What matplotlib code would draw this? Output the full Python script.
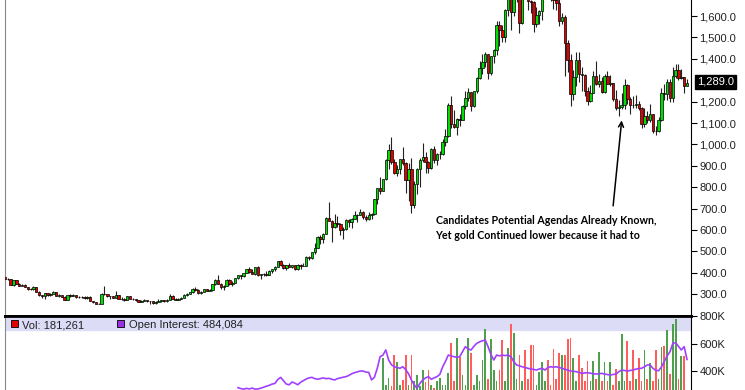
import matplotlib
matplotlib.use('Agg')
import matplotlib.pyplot as plt
from matplotlib.patches import Rectangle
from matplotlib.ticker import FuncFormatter

# monthly gold candles, Nov 1996 .. Nov 2016
opens = [
    379, 371,
    369, 345, 364, 349, 340, 345, 335, 326, 325, 332, 311, 296,  # 1997
    290, 304, 297, 301, 310, 293, 296, 288, 273, 294, 292, 294,  # 1998
    288, 287, 288, 280, 286, 268, 262, 255, 255, 299, 300, 292,  # 1999
    290, 283, 294, 277, 276, 272, 290, 276, 278, 273, 264, 270,  # 2000
    273, 266, 267, 258, 264, 267, 271, 266, 273, 293, 279, 275,  # 2001
    279, 282, 297, 302, 308, 326, 318, 304, 312, 324, 317, 318,  # 2002
    348, 368, 348, 335, 337, 364, 346, 354, 375, 388, 384, 398,  # 2003
    416, 403, 396, 426, 388, 395, 395, 391, 408, 416, 429, 453,  # 2004
    438, 422, 436, 428, 435, 418, 437, 430, 434, 473, 470, 496,  # 2005
    518, 569, 556, 583, 654, 643, 616, 634, 626, 599, 604, 648,  # 2006
    636, 653, 672, 669, 683, 660, 650, 668, 673, 743, 795, 783,  # 2007
    838, 928, 975, 917, 865, 887, 930, 914, 833, 884, 718, 816,  # 2008
    884, 928, 942, 916, 891, 979, 927, 954, 955, 1009, 1040, 1182,  # 2009
    1097, 1081, 1118, 1113, 1180, 1215, 1245, 1181, 1248, 1309, 1358, 1386,  # 2010
    1421, 1333, 1411, 1439, 1556, 1536, 1500, 1628, 1829, 1620, 1725, 1746,  # 2011
    1566, 1740, 1711, 1669, 1664, 1561, 1604, 1622, 1692, 1776, 1719, 1713,  # 2012
    1675, 1663, 1578, 1596, 1476, 1393, 1234, 1313, 1396, 1327, 1323, 1250,  # 2013
    1202, 1240, 1321, 1284, 1296, 1246, 1322, 1282, 1287, 1210, 1171, 1175,  # 2014
    1184, 1278, 1213, 1183, 1182, 1190, 1172, 1095, 1135, 1115, 1142, 1064,  # 2015
    1061, 1116, 1238, 1235, 1294, 1215, 1322, 1350, 1309, 1316, 1273,  # 2016
]
highs = [
    384, 374,
    369, 366, 368, 350, 349, 347, 335, 331, 337, 335, 314, 298,
    305, 304, 304, 315, 310, 300, 297, 290, 298, 300, 300, 295,
    293, 291, 290, 291, 290, 269, 264, 261, 304, 338, 303, 292,
    291, 316, 298, 288, 280, 292, 292, 281, 279, 275, 272, 277,
    273, 268, 268, 266, 277, 275, 272, 279, 300, 294, 284, 282,
    285, 303, 304, 311, 328, 332, 323, 315, 326, 325, 322, 349,
    372, 390, 353, 342, 371, 369, 363, 377, 391, 391, 400, 418,
    428, 420, 428, 430, 396, 399, 410, 412, 418, 431, 455, 458,
    440, 438, 446, 438, 436, 443, 439, 448, 477, 479, 498, 541,
    570, 575, 588, 660, 732, 645, 677, 666, 635, 616, 650, 650,
    656, 690, 675, 697, 690, 671, 682, 681, 745, 795, 848, 840,
    933, 1002, 1033, 930, 904, 933, 988, 917, 912, 935, 828, 889,
    938, 1007, 963, 922, 984, 991, 960, 967, 1026, 1072, 1194, 1227,
    1163, 1125, 1140, 1183, 1250, 1266, 1247, 1250, 1316, 1388, 1424, 1432,
    1424, 1414, 1448, 1575, 1578, 1557, 1633, 1911, 1923, 1764, 1803, 1763,
    1745, 1792, 1718, 1677, 1670, 1640, 1630, 1693, 1790, 1798, 1755, 1726,
    1695, 1684, 1616, 1606, 1488, 1424, 1348, 1434, 1434, 1362, 1327, 1267,
    1280, 1345, 1392, 1331, 1315, 1327, 1345, 1325, 1289, 1255, 1206, 1239,
    1307, 1283, 1220, 1224, 1232, 1205, 1175, 1170, 1157, 1191, 1142, 1088,
    1129, 1263, 1284, 1304, 1306, 1362, 1377, 1375, 1352, 1317, 1306,
]
lows = [
    368, 365,
    341, 340, 346, 337, 337, 334, 318, 320, 318, 308, 291, 281,
    278, 290, 292, 300, 290, 286, 286, 271, 272, 288, 290, 284,
    283, 281, 278, 279, 267, 257, 252, 252, 254, 295, 287, 278,
    280, 281, 276, 274, 270, 271, 276, 271, 269, 263, 263, 267,
    262, 255, 255, 254, 263, 264, 263, 265, 271, 276, 272, 271,
    277, 281, 290, 299, 307, 315, 302, 302, 311, 314, 315, 316,
    345, 347, 322, 320, 336, 342, 340, 352, 371, 371, 380, 397,
    399, 393, 390, 386, 372, 384, 387, 388, 400, 410, 425, 430,
    418, 411, 425, 422, 414, 414, 417, 430, 432, 461, 466, 490,
    517, 536, 538, 580, 640, 543, 608, 612, 577, 560, 598, 614,
    609, 650, 636, 668, 652, 642, 648, 650, 670, 723, 770, 780,
    836, 883, 910, 860, 852, 862, 905, 774, 735, 681, 705, 768,
    800, 918, 865, 865, 883, 913, 904, 931, 950, 992, 1034, 1075,
    1076, 1044, 1088, 1113, 1165, 1204, 1157, 1177, 1242, 1308, 1330, 1360,
    1308, 1325, 1381, 1418, 1462, 1478, 1478, 1600, 1535, 1600, 1667, 1523,
    1564, 1690, 1627, 1613, 1527, 1550, 1564, 1583, 1688, 1700, 1672, 1635,
    1626, 1555, 1565, 1321, 1339, 1180, 1208, 1271, 1292, 1251, 1227, 1182,
    1200, 1238, 1277, 1268, 1240, 1240, 1282, 1273, 1205, 1161, 1131, 1167,
    1167, 1191, 1142, 1170, 1170, 1162, 1077, 1080, 1098, 1107, 1052, 1046,
    1060, 1110, 1208, 1208, 1199, 1200, 1310, 1302, 1304, 1241, 1271,
]
closes = [
    371, 369,
    345, 364, 349, 340, 345, 335, 326, 325, 332, 311, 296, 290,
    304, 297, 301, 310, 293, 296, 288, 273, 294, 292, 294, 288,
    287, 288, 280, 286, 268, 262, 255, 255, 299, 300, 292, 290,
    283, 294, 277, 276, 272, 290, 276, 278, 273, 264, 270, 273,
    266, 267, 258, 264, 267, 271, 266, 273, 293, 279, 275, 279,
    282, 297, 302, 308, 326, 318, 304, 312, 324, 317, 318, 348,
    368, 348, 335, 337, 364, 346, 354, 375, 388, 384, 398, 416,
    403, 396, 426, 388, 395, 395, 391, 408, 416, 429, 453, 438,
    422, 436, 428, 435, 418, 437, 430, 434, 473, 470, 496, 518,
    569, 556, 583, 654, 643, 616, 634, 626, 599, 604, 648, 636,
    653, 672, 669, 683, 660, 650, 668, 673, 743, 795, 783, 838,
    928, 975, 917, 865, 887, 930, 914, 833, 884, 718, 816, 884,
    928, 942, 916, 891, 979, 927, 954, 955, 1009, 1040, 1182, 1097,
    1081, 1118, 1113, 1180, 1215, 1245, 1181, 1248, 1309, 1358, 1386, 1421,
    1333, 1411, 1439, 1556, 1536, 1500, 1628, 1829, 1620, 1725, 1746, 1566,
    1740, 1711, 1669, 1664, 1561, 1604, 1622, 1692, 1776, 1719, 1713, 1675,
    1663, 1578, 1596, 1476, 1393, 1234, 1313, 1396, 1327, 1323, 1250, 1202,
    1240, 1321, 1284, 1296, 1246, 1322, 1282, 1287, 1210, 1171, 1175, 1184,
    1278, 1213, 1183, 1182, 1190, 1172, 1095, 1135, 1115, 1142, 1064, 1061,
    1116, 1238, 1235, 1294, 1215, 1322, 1350, 1309, 1316, 1273, 1289,
]

# volume (thousands), bars from bar index 128 on (earlier ones sit below the pane)
vol_start = 128
volumes = [
    230, 250, 240, 255, 250, 492, 300, 347, 290, 516, 468, 300,
    335, 516, 300, 516, 330, 371, 290, 407, 320, 407, 300, 280,
    330, 347, 300, 300, 383, 606, 330, 638, 504, 371, 300, 638,
    529, 300, 371, 330, 480, 703, 340, 630, 407, 330, 407, 625,
    330, 565, 742, 674, 340, 516, 330, 553, 340, 589, 589, 300,
    395, 468, 330, 480, 300, 557, 340, 529, 516, 516, 633, 638,
    492, 330, 516, 419, 330, 473, 330, 473, 340, 541, 330, 468,
    330, 468, 300, 412, 330, 671, 330, 618, 330, 552, 340, 492,
    330, 553, 340, 456, 330, 550, 340, 577, 582, 698, 380, 742,
    776, 340, 509, 509, 181,
]

# open interest (thousands), from bar index 82 on
oi_start = 82
open_interest = [
    279, 272, 268, 274, 270, 276, 268, 270, 275, 282, 290, 296,
    305, 310, 338, 354, 330, 305, 300, 320, 312, 300, 318, 330,
    342, 350, 354, 345, 340, 345, 350, 344, 347, 340, 335, 345,
    350, 355, 359, 368, 380, 388, 394, 400, 400, 392, 390, 335,
    355, 420, 504, 516, 553, 480, 445, 431, 425, 420, 431, 410,
    380, 335, 300, 274, 310, 335, 350, 359, 340, 350, 359, 375,
    430, 470, 516, 510, 504, 500, 504, 540, 577, 560, 553, 580,
    601, 612, 620, 625, 577, 520, 480, 516, 510, 516, 512, 516,
    504, 470, 444, 438, 431, 425, 420, 415, 412, 407, 415, 420,
    407, 425, 431, 428, 431, 425, 420, 412, 407, 400, 398, 395,
    390, 383, 386, 388, 384, 380, 378, 380, 383, 378, 374, 371,
    375, 378, 395, 407, 404, 400, 404, 407, 414, 418, 420, 430,
    444, 444, 420, 405, 402, 430, 470, 510, 540, 601, 606, 580,
    553, 577, 484,
]

# 1,300 is hidden behind the last-price box
price_ticks = [300, 400, 500, 600, 700, 800, 900, 1000, 1100, 1200,
               1400, 1500, 1600]
vol_ticks = [400, 600, 800]
last_price_label = '1,289.0'
vol_label = 'Vol: 181,261'
oi_label = 'Open Interest: 484,084'
note = ('Candidates Potential Agendas Already Known,\n'
        'Yet gold Continued lower because it had to')

UP = '#00dd00'
DOWN = '#e00000'
W, H = 745, 390

plt.rcParams['font.family'] = ['Liberation Sans', 'DejaVu Sans']
fig = plt.figure(figsize=(W / 100, H / 100), dpi=100)

# pane rectangles in pixels: left 5, axis at 691, split at 316
ax = fig.add_axes([5 / W, (H - 316) / H, 686 / W, 316 / H])
axv = fig.add_axes([5 / W, 0, 686 / W, (H - 316) / H])

n = len(closes)
xs = list(range(n))
cols = [UP if c >= o else DOWN for o, c in zip(opens, closes)]

ax.vlines(xs, lows, highs, color='#222222', linewidth=0.8, zorder=2)
ax.bar(xs, [max(abs(c - o), 1) for o, c in zip(opens, closes)],
       bottom=[min(o, c) for o, c in zip(opens, closes)],
       width=0.85, color=cols, edgecolor='black', linewidth=0.5, zorder=3)

xlim = (0, 241.4)
ax.set_xlim(*xlim)
ax.set_ylim(198, 1675)

ax.annotate('', xy=(217.1, 1125), xytext=(213.9, 700),
            arrowprops=dict(arrowstyle='->', color='black', lw=1.1,
                            mutation_scale=9))
ax.text(151.5, 610, note, family=['Lato', 'DejaVu Sans'], fontweight='bold',
        fontsize=7.7, ha='left', va='center', linespacing=1.4,
        color='black')

# lower pane: volume + open interest
vx = list(range(vol_start, vol_start + len(volumes)))
vcols = ['#ff5c5c' if cols[i] == DOWN else '#4f9f4f' for i in vx]
axv.bar(vx, volumes, width=0.6, color=vcols, zorder=2)
ox = list(range(oi_start, oi_start + len(open_interest)))
axv.plot(ox, open_interest, color='#a040ff', linewidth=1.2, zorder=3)
axv.axhspan(698, 800, color='#dcdcf6', zorder=0)
axv.set_xlim(*xlim)
axv.set_ylim(262, 800)

axv.add_patch(Rectangle((6 / 686, 63.5 / 74), 7 / 686, 7 / 74,
                        transform=axv.transAxes, facecolor='#e00000',
                        edgecolor='black', linewidth=0.6, zorder=4))
axv.text(17 / 686, 65 / 74, vol_label, transform=axv.transAxes,
         fontsize=8, va='center', ha='left', color='#222222', zorder=4)
axv.add_patch(Rectangle((112 / 686, 63.5 / 74), 7 / 686, 7 / 74,
                        transform=axv.transAxes, facecolor='#9a30e0',
                        edgecolor='black', linewidth=0.6, zorder=4))
axv.text(124 / 686, 65 / 74, oi_label, transform=axv.transAxes,
         fontsize=8, va='center', ha='left', color='#222222', zorder=4)

for a in (ax, axv):
    a.set_xticks([])
    a.yaxis.tick_right()
    a.tick_params(axis='y', direction='out', length=4, width=0.8,
                  labelsize=8, labelcolor='#222222', pad=2)
    a.spines['left'].set_color('#888888')
    a.spines['right'].set_color('black')

ax.set_yticks(price_ticks)
ax.yaxis.set_major_formatter(FuncFormatter(lambda v, p: f'{v:,.1f}'))
ax.spines['top'].set_visible(False)
ax.spines['bottom'].set_linewidth(2)

axv.set_yticks(vol_ticks)
axv.yaxis.set_major_formatter(FuncFormatter(lambda v, p: f'{v:.0f}K'))
axv.spines['bottom'].set_visible(False)
axv.spines['top'].set_linewidth(2)

fig.text(697 / W, 1 - 82 / H, last_price_label, fontsize=8, color='white',
         ha='left', va='center',
         bbox=dict(facecolor='black', edgecolor='black', pad=1.2))

fig.savefig('out.png', dpi=100)
plt.close(fig)
